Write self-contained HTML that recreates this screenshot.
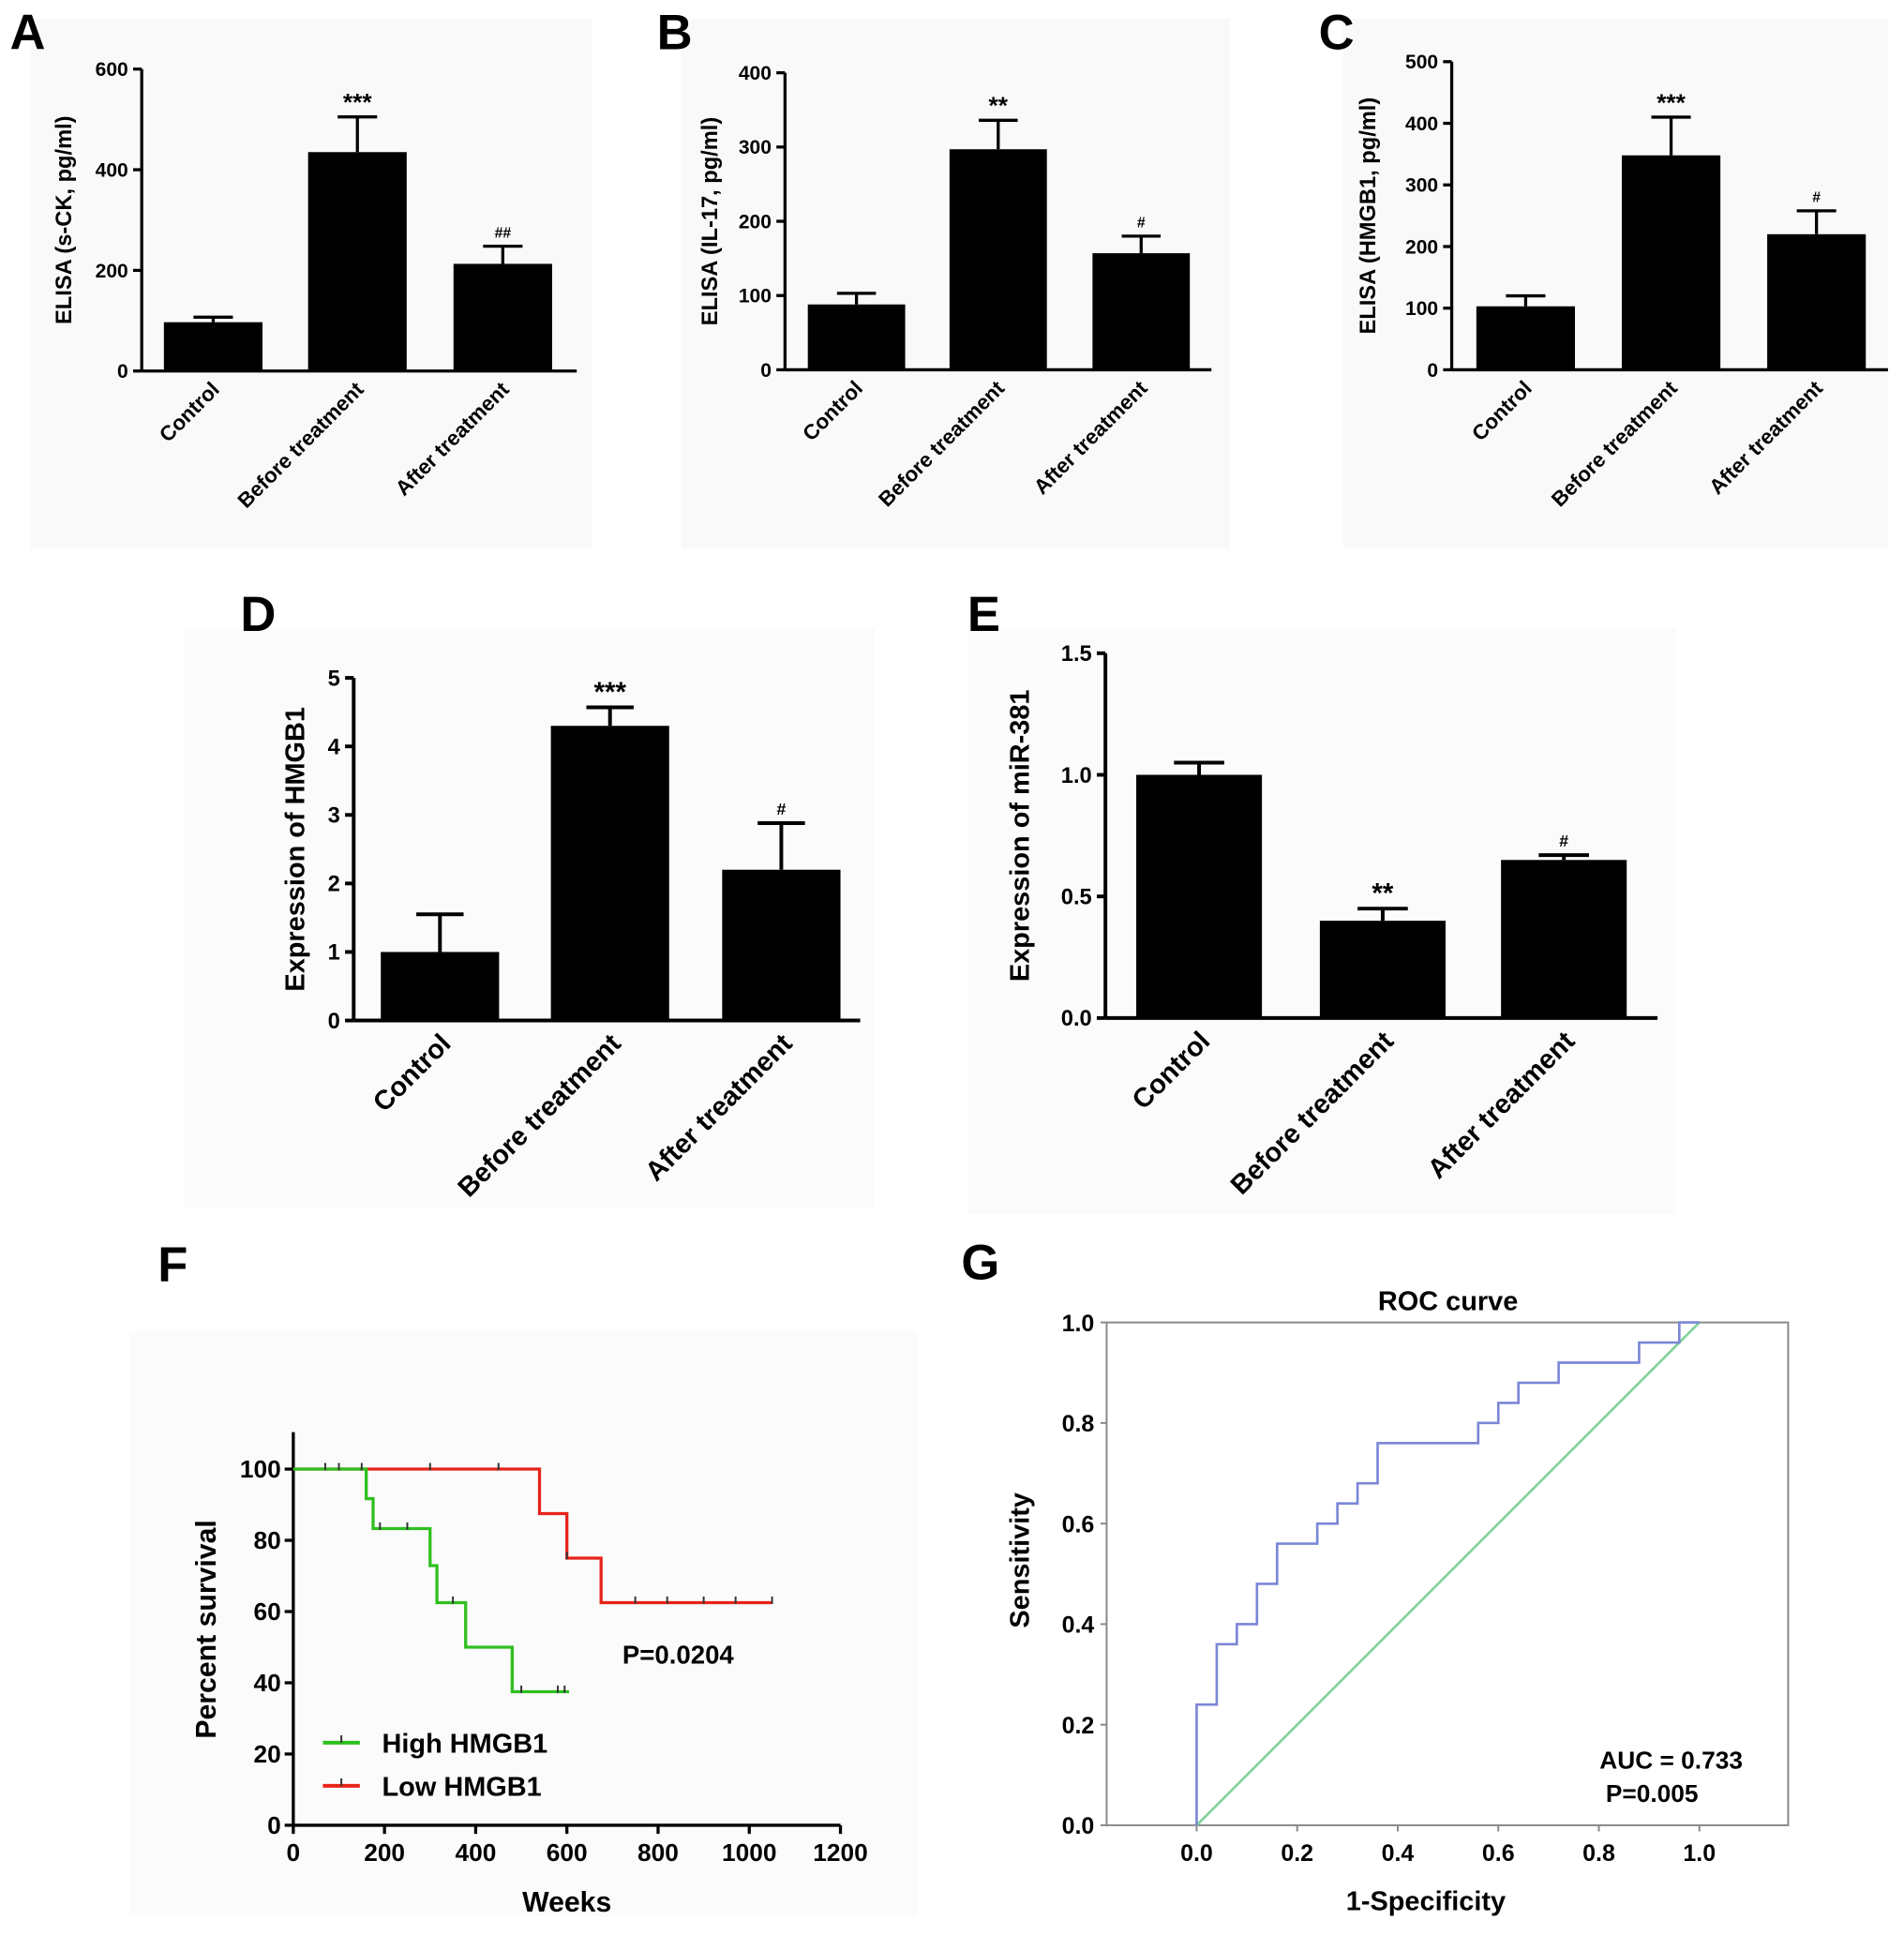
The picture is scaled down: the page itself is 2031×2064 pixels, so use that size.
<!DOCTYPE html>
<html><head><meta charset="utf-8"><style>
html,body{margin:0;padding:0;background:#fff;}
svg{display:block;font-family:"Liberation Sans",Arial,sans-serif;font-weight:bold;}
</style></head><body>
<svg id="fig" width="2031" height="2064" viewBox="0 0 1545 1570">
<rect x="25" y="15" width="455" height="430" fill="#f9f9f9"/>
<rect x="553" y="15" width="445" height="430" fill="#f9f9f9"/>
<rect x="1090" y="15" width="442" height="430" fill="#f9f9f9"/>
<rect x="150" y="510" width="560" height="470" fill="#fbfbfb"/>
<rect x="785" y="510" width="575" height="475" fill="#fbfbfb"/>
<rect x="105" y="1080" width="640" height="475" fill="#fbfbfb"/>
</svg>
<script>
// ---- data ----
const barCategories = ["Control","Before treatment","After treatment"];
const aValues = [97, 435, 213];
const aErrors = [107, 505, 248];
const aMarks = ["", "***", "##"];
const aTicks = [0, 200, 400, 600];
const bValues = [88, 297, 157];
const bErrors = [103, 336, 180];
const bMarks = ["", "**", "#"];
const bTicks = [0, 100, 200, 300, 400];
const cValues = [103, 348, 220];
const cErrors = [120, 410, 258];
const cMarks = ["", "***", "#"];
const cTicks = [0, 100, 200, 300, 400, 500];
const dValues = [1.0, 4.3, 2.2];
const dErrors = [1.55, 4.57, 2.88];
const dMarks = ["", "***", "#"];
const dTicks = [0, 1, 2, 3, 4, 5];
const eValues = [1.0, 0.4, 0.65];
const eErrors = [1.05, 0.45, 0.67];
const eMarks = ["", "**", "#"];
const eTicks = [0.0, 0.5, 1.0, 1.5];
const eTickLabels = ["0.0", "0.5", "1.0", "1.5"];
const highWeeks = [0, 160, 175, 300, 315, 378, 480, 605];
const highSurv = [100, 91.7, 83.3, 72.9, 62.5, 50, 37.5, 37.5];
const highCensor = [70, 100, 150, 190, 250, 350, 500, 580, 595];
const lowWeeks = [0, 540, 600, 675, 1050];
const lowSurv = [100, 87.5, 75, 62.5, 62.5];
const lowCensor = [300, 450, 600, 750, 820, 900, 970, 1050];
const survTicksX = [0, 200, 400, 600, 800, 1000, 1200];
const survTicksY = [0, 20, 40, 60, 80, 100];
const rocFpr = [0,0,0.04,0.04,0.08,0.08,0.12,0.12,0.16,0.16,0.24,0.24,0.28,0.28,0.32,0.32,0.36,0.36,0.56,0.56,0.60,0.60,0.64,0.64,0.72,0.72,0.88,0.88,0.96,0.96,1];
const rocTpr = [0,0.24,0.24,0.36,0.36,0.40,0.40,0.48,0.48,0.56,0.56,0.60,0.60,0.64,0.64,0.68,0.68,0.76,0.76,0.80,0.80,0.84,0.84,0.88,0.88,0.92,0.92,0.96,0.96,1,1];
const rocTicks = [0, 0.2, 0.4, 0.6, 0.8, 1.0];
const rocTickLabels = ["0.0","0.2","0.4","0.6","0.8","1.0"];

const svg = document.getElementById('fig');
const NS = 'http://www.w3.org/2000/svg';
function mk(tag, attrs, parent, text){
  const e = document.createElementNS(NS, tag);
  for (const k in attrs) e.setAttribute(k, attrs[k]);
  if (text !== undefined) e.textContent = text;
  (parent || svg).appendChild(e);
  return e;
}

function barChart(cfg){
  const g = mk('g', {});
  
  
  const ymax = cfg.ticks[cfg.ticks.length-1];
  const ys = v => cfg.y0 - (v/ymax)*(cfg.y0-cfg.y1);
  const lw = cfg.lw;
  const ax = mk('line', {x1:cfg.x0, y1:cfg.y1, x2:cfg.x0, y2:cfg.y0, stroke:'#000','stroke-width':lw}, g);
  
  
  const bx = mk('line', {x1:cfg.x0, y1:cfg.y0, x2:cfg.xEnd, y2:cfg.y0, stroke:'#000','stroke-width':lw}, g);
  
  
  cfg.ticks.forEach((t,i)=>{
    const y = ys(t);
    mk('line', {x1:cfg.x0-7, y1:y, x2:cfg.x0, y2:y, stroke:'#000','stroke-width':lw}, g);
    const tl = mk('text', {x:cfg.x0-11, y:y+cfg.fs*0.35, 'font-size':cfg.fs, 'text-anchor':'end'}, g, cfg.tickLabels ? cfg.tickLabels[i] : t);
    
    
  });
  const yl = mk('text', {x:0, y:0, 'font-size':cfg.yfs, 'text-anchor':'middle', transform:`translate(${cfg.ylx},${(cfg.y0+cfg.y1)/2}) rotate(-90)`}, g, cfg.ylabel);
  
  
  cfg.values.forEach((v,i)=>{
    const cx = cfg.centers[i];
    const bw = cfg.bw;
    const ey = ys(cfg.errors[i]);
    mk('line', {x1:cx, y1:ys(v), x2:cx, y2:ey, stroke:'#000','stroke-width':lw}, g);
    mk('line', {x1:cx-bw*0.2, y1:ey, x2:cx+bw*0.2, y2:ey, stroke:'#000','stroke-width':lw}, g);
    const r = mk('rect', {x:cx-bw/2, y:ys(v), width:bw, height:cfg.y0-ys(v), fill:'#000'}, g);
    
    
    if (cfg.marks[i]) {
      const isHash = cfg.marks[i][0]==='#';
      const m = mk('text', {x:cx, y:ey-(isHash?7:5), 'font-size':isHash?cfg.fs*0.75:cfg.fs*1.25, 'text-anchor':'middle'}, g, cfg.marks[i]);
      
      
    }
    const xl = mk('text', {x:0, y:0, 'font-size':cfg.xfs, 'text-anchor':'end', transform:`translate(${cx+cfg.xlo},${cfg.y0+cfg.xly}) rotate(-45)`}, g, barCategories[i]);
    
    
  });
  const pl = mk('text', {x:cfg.px, y:cfg.py, 'font-size':40}, g, cfg.letter);
  
  
}

barChart({name:'chart-a', letter:'A', px:8, py:40, x0:115, xEnd:468, y0:301, y1:56, ticks:aTicks, values:aValues, errors:aErrors, marks:aMarks, centers:[173,290,408], bw:80, lw:2.5, fs:16, yfs:18, xfs:17, ylx:58, ylabel:'ELISA (s-CK, pg/ml)', xlo:6, xly:16});
barChart({name:'chart-b', letter:'B', px:533, py:40, x0:637, xEnd:983, y0:300, y1:59, ticks:bTicks, values:bValues, errors:bErrors, marks:bMarks, centers:[695,810,926], bw:79, lw:2.5, fs:16, yfs:18, xfs:17, ylx:582, ylabel:'ELISA (IL-17, pg/ml)', xlo:6, xly:16});
barChart({name:'chart-c', letter:'C', px:1070, py:40, x0:1178, xEnd:1532, y0:300, y1:50, ticks:cTicks, values:cValues, errors:cErrors, marks:cMarks, centers:[1238,1356,1474], bw:80, lw:2.5, fs:16, yfs:18, xfs:17, ylx:1116, ylabel:'ELISA (HMGB1, pg/ml)', xlo:6, xly:16});
barChart({name:'chart-d', letter:'D', px:195, py:512, x0:287, xEnd:698, y0:828, y1:550, ticks:dTicks, values:dValues, errors:dErrors, marks:dMarks, centers:[357,495,634], bw:96, lw:3, fs:18, yfs:22, xfs:22, ylx:247, ylabel:'Expression of HMGB1', xlo:10, xly:20});
barChart({name:'chart-e', letter:'E', px:785, py:512, x0:897, xEnd:1345, y0:826, y1:530, ticks:eTicks, tickLabels:eTickLabels, values:eValues, errors:eErrors, marks:eMarks, centers:[973,1122,1269], bw:102, lw:3, fs:18, yfs:22, xfs:22, ylx:835, ylabel:'Expression of miR-381', xlo:10, xly:20});

// ---- Panel F: survival ----
(function(){
  const g = mk('g', {});
  
  
  const x0=238, y0=1481, y100=1192;
  const xs = w => x0 + w*(682-238)/1200;
  const ys = v => y0 - v*(y0-y100)/100;
  const pl = mk('text', {x:128, y:1040, 'font-size':40}, g, 'F');
  
  
  mk('line', {x1:x0,y1:1162,x2:x0,y2:y0,stroke:'#000','stroke-width':2.5}, g);
  mk('line', {x1:x0,y1:y0,x2:682,y2:y0,stroke:'#000','stroke-width':2.5}, g);
  survTicksY.forEach(t=>{
    mk('line',{x1:x0-7,y1:ys(t),x2:x0,y2:ys(t),stroke:'#000','stroke-width':2.5},g);
    const l = mk('text',{x:x0-10,y:ys(t)+7,'font-size':20,'text-anchor':'end'},g,t);
    
    
  });
  survTicksX.forEach(t=>{
    mk('line',{x1:xs(t),y1:y0,x2:xs(t),y2:y0+7,stroke:'#000','stroke-width':2.5},g);
    const l = mk('text',{x:xs(t),y:y0+29,'font-size':20,'text-anchor':'middle'},g,t);
    
    
  });
  const xt = mk('text',{x:460,y:1551,'font-size':23,'text-anchor':'middle'},g,'Weeks');
  
  
  const yt = mk('text',{x:0,y:0,'font-size':23,'text-anchor':'middle',transform:'translate(175,1322) rotate(-90)'},g,'Percent survival');
  
  
  function stepPath(ws, ss){
    let d = `M${xs(ws[0])},${ys(ss[0])}`;
    for (let i=1;i<ws.length;i++){ d += ` H${xs(ws[i])} V${ys(ss[i])}`; }
    return d;
  }
  function survAt(ws, ss, w){ let s=ss[0]; for(let i=0;i<ws.length;i++){ if(ws[i]<=w) s=ss[i]; } return s; }
  const lp = mk('path',{d:stepPath(lowWeeks,lowSurv),fill:'none',stroke:'#e8231b','stroke-width':2.5},g);
  
  
  const hp = mk('path',{d:stepPath(highWeeks,highSurv),fill:'none',stroke:'#2fbf1f','stroke-width':2.5},g);
  
  
  lowCensor.forEach(w=>{ const y=ys(survAt(lowWeeks,lowSurv,w)); mk('line',{x1:xs(w),y1:y-5,x2:xs(w),y2:y+1,stroke:'#333','stroke-width':1.5},g); });
  highCensor.forEach(w=>{ const y=ys(survAt(highWeeks,highSurv,w)); mk('line',{x1:xs(w),y1:y-5,x2:xs(w),y2:y+1,stroke:'#333','stroke-width':1.5},g); });
  const pv = mk('text',{x:505,y:1350,'font-size':21},g,'P=0.0204');
  
  
  [['High HMGB1','#2fbf1f',1414],['Low HMGB1','#e8231b',1449]].forEach(([n,c,y])=>{
    const lg = mk('g',{},g);
    
    
    mk('line',{x1:262,y1:y,x2:292,y2:y,stroke:c,'stroke-width':3},lg);
    mk('line',{x1:277,y1:y-6,x2:277,y2:y,stroke:'#333','stroke-width':1.5},lg);
    mk('text',{x:310,y:y+8,'font-size':22},lg,n);
  });
})();

// ---- Panel G: ROC ----
(function(){
  const g = mk('g', {});
  
  
  const xs = v => 971 + v*(1379-971);
  const ys = v => 1481 - v*(1481-1073);
  const pl = mk('text', {x:780, y:1038, 'font-size':40}, g, 'G');
  
  
  const t = mk('text',{x:1175,y:1063,'font-size':22,'text-anchor':'middle'},g,'ROC curve');
  
  
  mk('rect',{x:898,y:1073,width:553,height:408,fill:'#fff',stroke:'#888','stroke-width':1.5},g);
  rocTicks.forEach((v,i)=>{
    mk('line',{x1:893,y1:ys(v),x2:898,y2:ys(v),stroke:'#888','stroke-width':1.5},g);
    const a = mk('text',{x:888,y:ys(v)+7,'font-size':19,'text-anchor':'end'},g,rocTickLabels[i]);
    
    
    mk('line',{x1:xs(v),y1:1481,x2:xs(v),y2:1486,stroke:'#888','stroke-width':1.5},g);
    const b = mk('text',{x:xs(v),y:1510,'font-size':19,'text-anchor':'middle'},g,rocTickLabels[i]);
    
    
  });
  const xt = mk('text',{x:1157,y:1550,'font-size':22,'text-anchor':'middle'},g,'1-Specificity');
  
  
  const yt = mk('text',{x:0,y:0,'font-size':22,'text-anchor':'middle',transform:'translate(835,1266) rotate(-90)'},g,'Sensitivity');
  
  
  const dl = mk('line',{x1:xs(0),y1:ys(0),x2:xs(1),y2:ys(1),stroke:'#7fd39a','stroke-width':2},g);
  
  
  const pts = rocFpr.map((f,i)=>xs(f)+','+ys(rocTpr[i])).join(' ');
  const pl2 = mk('polyline',{points:pts,fill:'none',stroke:'#7b86d6','stroke-width':2},g);
  
  
  const au = mk('text',{x:1298,y:1435,'font-size':20},g,'AUC = 0.733');
  
  
  const pv = mk('text',{x:1303,y:1462,'font-size':20},g,'P=0.005');
  
  
})();
</script>
</body></html>
